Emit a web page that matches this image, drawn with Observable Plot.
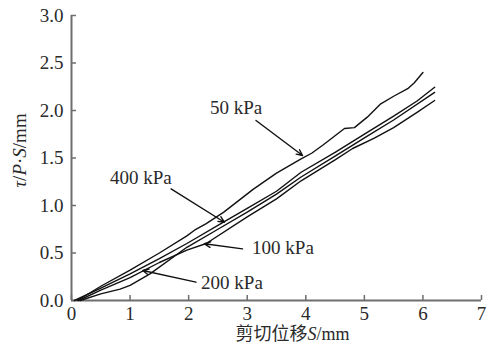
<!DOCTYPE html>
<html><head><meta charset="utf-8">
<script src="https://cdn.jsdelivr.net/npm/d3@7"></script>
<script src="https://cdn.jsdelivr.net/npm/@observablehq/plot@0.6"></script>
<style>
body{margin:0;background:#fff}
#chart svg{display:block}
</style>
</head><body><div id="chart"></div>
<script>
const xTicks = [0,1,2,3,4,5,6,7];
const yTicks = [0,0.5,1.0,1.5,2.0,2.5,3.0];
const seriesNames = ["50 kPa","400 kPa","100 kPa","200 kPa"];
const s50 = [[0.1,0],[0.5,0.15],[1.0,0.32],[1.5,0.50],[1.97,0.68],[2.1,0.74],[2.3,0.81],[2.6,0.93],[3.1,1.17],[3.5,1.34],[3.92,1.49],[4.1,1.55],[4.3,1.64],[4.66,1.81],[4.83,1.82],[5.05,1.93],[5.28,2.07],[5.5,2.15],[5.74,2.23],[5.85,2.29],[6.0,2.40]];
const s400 = [[0.05,0],[0.5,0.13],[1.0,0.28],[1.5,0.44],[1.97,0.60],[2.58,0.82],[3.0,0.97],[3.5,1.15],[3.92,1.35],[4.5,1.56],[5.05,1.77],[5.5,1.94],[5.9,2.10],[6.2,2.245]];
const s100 = [[0.12,0],[0.5,0.11],[1.0,0.24],[1.5,0.40],[1.97,0.53],[2.3,0.60],[3.0,0.88],[3.5,1.07],[3.92,1.26],[4.5,1.48],[4.8,1.60],[5.17,1.71],[5.5,1.82],[5.9,1.98],[6.2,2.105]];
const s200 = [[0.15,0],[0.5,0.07],[0.83,0.12],[1.0,0.16],[1.34,0.28],[1.97,0.56],[2.5,0.75],[3.0,0.93],[3.5,1.12],[3.92,1.30],[4.5,1.52],[5.05,1.73],[5.5,1.90],[6.2,2.19]];
const seriesData = [s50, s400, s100, s200];
const labelX = [2.81, 1.185, 3.61, 2.74];
const labelY = [2.03, 1.295, 0.553, 0.18];
const arrowX1 = [3.15, 1.70, 2.92, 2.125];
const arrowY1 = [1.895, 1.175, 0.544, 0.193];
const arrowX2 = [3.945, 2.61, 2.27, 1.215];
const arrowY2 = [1.526, 0.824, 0.597, 0.316];
const xLabel = "剪切位移S/mm";
const yLabel = "τ/P·S/mm";

const rows = seriesNames.flatMap((name, i) => seriesData[i].map(([x, y]) => ({series: name, x, y})));
const notes = seriesNames.map((name, i) => ({name, x: labelX[i], y: labelY[i], x1: arrowX1[i], y1: arrowY1[i], x2: arrowX2[i], y2: arrowY2[i]}));

const FONT = "'Liberation Serif', 'DejaVu Serif', 'Noto Sans CJK SC', serif";
const FS = 19;
const axisColor = "#6e6e6e";
const textColor = "#2a2a2a";

const chart = Plot.plot({
  width: 492, height: 347,
  marginLeft: 71, marginRight: 11, marginTop: 15, marginBottom: 47,
  style: {fontFamily: FONT, fontSize: FS + "px", color: textColor, background: "#fff"},
  x: {domain: [0, 7]},
  y: {domain: [0, 3]},
  marks: [
    Plot.axisX({ticks: xTicks, tickSize: -5, stroke: axisColor, strokeWidth: 1.5, text: null, label: null}),
    Plot.axisX({ticks: xTicks, tickSize: 0, tickPadding: 6, tickFormat: d => String(d), fill: textColor, fontSize: FS, label: null}),
    Plot.axisY({ticks: yTicks, tickSize: -5, stroke: axisColor, strokeWidth: 1.5, text: null, label: null}),
    Plot.axisY({ticks: yTicks, tickSize: 0, tickPadding: 8, tickFormat: d => d.toFixed(1), fill: textColor, fontSize: FS, label: null}),
    Plot.ruleY([0], {stroke: axisColor, strokeWidth: 2}),
    Plot.ruleX([0], {stroke: axisColor, strokeWidth: 2}),
    Plot.line(rows, {x: "x", y: "y", z: "series", stroke: "#111", strokeWidth: 1.4, curve: "linear"}),
    Plot.arrow(notes, {x1: "x1", y1: "y1", x2: "x2", y2: "y2", stroke: "#111", strokeWidth: 1.4, headLength: 7, headAngle: 50}),
    Plot.text(notes, {x: "x", y: "y", text: "name", fill: textColor, fontSize: FS}),
    Plot.text([xLabel], {frameAnchor: "bottom", dy: 34, dx: 16, textAnchor: "middle", lineAnchor: "middle", text: d => d, fill: textColor, fontSize: 18, className: "xlab"}),
    Plot.text([yLabel], {frameAnchor: "left", dx: -52, dy: -7.5, rotate: -90, textAnchor: "middle", lineAnchor: "middle", text: d => d, fill: textColor, fontSize: FS, className: "ylab"})
  ]
});
document.getElementById("chart").appendChild(chart);

function italicize(sel, parts) {
  const t = d3.select(chart).select(sel).select("text");
  t.text(null);
  parts.forEach(([s, it]) => t.append("tspan").attr("font-style", it ? "italic" : null).text(s));
}
italicize("g.xlab", [["剪切位移", false], ["S", true], ["/mm", false]]);
italicize("g.ylab", [["τ", true], ["/", false], ["P", true], ["·", false], ["S", true], ["/mm", false]]);
d3.select(chart).selectAll("text, g").style("font-family", FONT);
</script></body></html>
